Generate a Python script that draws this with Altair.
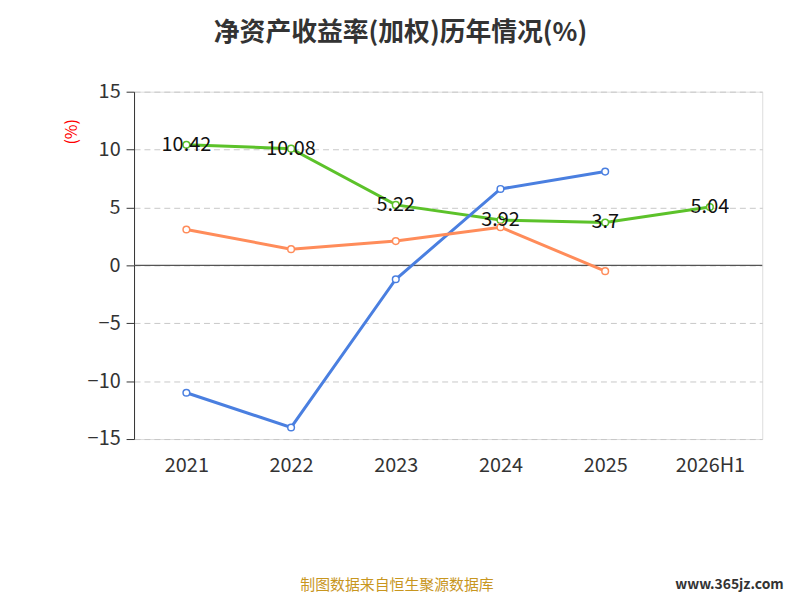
import altair as alt
import pandas as pd

years = ["2021", "2022", "2023", "2024", "2025", "2026H1"]
company = [10.42, 10.08, 5.22, 3.92, 3.7, 5.04]
ind_avg = [-11.0, -14.0, -1.2, 6.6, 8.1]
ind_med = [3.1, 1.4, 2.1, 3.3, -0.5]
names = ["公司净资产收益率(加权)", "行业均值", "行业中位数"]
colors = ["#5cc22a", "#4a7fe0", "#ff8c5a"]

rows = []
for y, v in zip(years, company):
    rows.append({"year": y, "v": v, "s": names[0]})
for y, v in zip(years, ind_avg):
    rows.append({"year": y, "v": v, "s": names[1]})
for y, v in zip(years, ind_med):
    rows.append({"year": y, "v": v, "s": names[2]})
df = pd.DataFrame(rows)
comp = pd.DataFrame({"year": years, "v": company, "lab": [str(c) for c in company]})

x = alt.X("year:N", sort=years, scale=alt.Scale(paddingInner=0, paddingOuter=0.5),
          axis=alt.Axis(title=None, labelAngle=0, labelFontSize=20, labelColor="#333",
                        domain=False, ticks=False, labelPadding=17, grid=False))
y = alt.Y("v:Q", scale=alt.Scale(domain=[-15, 15], nice=False),
          axis=alt.Axis(title="(%)", titleColor="red", titleFontSize=16, titleFontWeight="normal",
                        titleAngle=270, titleX=-55, titleY=40, values=list(range(-15, 16, 5)),
                        labelFontSize=20, labelColor="#333", domainColor="#333", tickColor="#333",
                        tickSize=8, gridDash=[6, 4], gridColor="#c8c8c8", labelPadding=6))

scale = alt.Scale(domain=names, range=colors)
lines = alt.Chart(df).mark_line(strokeWidth=3).encode(
    x=x, y=y, color=alt.Color("s:N", sort=names, scale=scale, legend=None), detail="s:N")
pts = alt.Chart(df).mark_point(filled=False, fill="white", fillOpacity=1, size=45, strokeWidth=1.5, opacity=1).encode(
    x=x, y=y,
    color=alt.Color("s:N", sort=names, scale=scale,
                    legend=alt.Legend(title=None, orient="bottom", labelFontSize=20, labelColor="#333",
                                      symbolType="circle", symbolFillColor="white", symbolStrokeWidth=2,
                                      symbolSize=250, offset=58, columnPadding=40, labelLimit=400)))
zero = alt.Chart(pd.DataFrame({"v": [0]})).mark_rule(color="#555", strokeWidth=1.5).encode(y=alt.Y("v:Q"))
labels = alt.Chart(comp).mark_text(fontSize=20, color="#111").encode(x=x, y=y, text="lab:N")
foot = alt.Chart(pd.DataFrame({"t": ["制图数据来自恒生聚源数据库"]})).mark_text(
    fontSize=15, color="#c8961e").encode(text="t:N", x=alt.value(265), y=alt.value(497))
site = alt.Chart(pd.DataFrame({"t": ["www.365jz.com"]})).mark_text(
    fontSize=14, color="#333", fontWeight="bold").encode(text="t:N", x=alt.value(600), y=alt.value(497))

chart = alt.layer(zero, lines, pts, labels, foot, site).properties(
    width=633, height=350,
    title=alt.TitleParams("净资产收益率(加权)历年情况(%)", fontSize=26, fontWeight="bold", color="#333",
                          offset=36, dx=-48),
    autosize=alt.AutoSizeParams(type="none"),
    padding={"left": 127, "top": 82, "right": 30, "bottom": 180},
).configure_view(stroke=None).configure(font="Noto Sans CJK SC")

chart.save("out.html", embed_options={"renderer": "svg", "actions": False})
